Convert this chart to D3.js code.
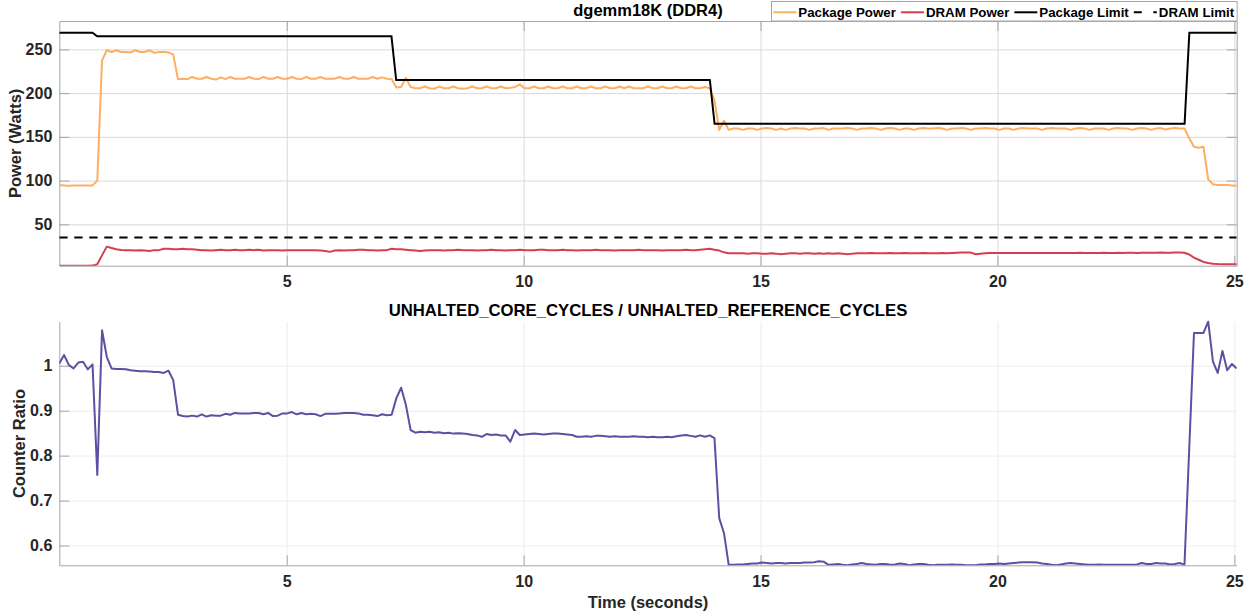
<!DOCTYPE html>
<html>
<head>
<meta charset="utf-8">
<script src="https://cdn.jsdelivr.net/npm/d3@7"></script>
<style>
  body { margin: 0; background: #fff; }
  svg { font-family: "Liberation Sans", Arial, sans-serif; font-weight: bold; }
</style>
</head>
<body>
<div id="chart"></div>
<script>
// samples every ~0.1 s starting at 0.2 s
const tStart = 0.2, dt = 0.1002;

// Package power (W), one value per sample
const pkgPower = [
  95, 94.5, 94, 94.5, 94.5, 94.5, 94.5, 94.5, 100, 237.5,
  249, 247, 249, 247, 247, 246.5, 249, 247, 247, 249,
  246, 247, 247, 246.5, 244, 216, 216.5, 216, 218.5, 216.5,
  216.5, 218.5, 216.5, 215.5, 218, 216, 218.5, 216.5, 216.5, 216.5,
  218.5, 216.5, 216, 218.5, 216.5, 216.5, 218.5, 216.5, 216.5, 218.5,
  216.5, 216, 218.5, 216.5, 216.5, 218.5, 216.5, 216.5, 216.5, 218.5,
  216.5, 216.5, 218.5, 216.5, 216.5, 216.5, 218.5, 216.5, 218, 216.5,
  216, 206.5, 207, 217.5, 207, 205.5, 205.5, 207.5, 205.5, 205,
  207.5, 205.5, 205.5, 207.5, 205.5, 205, 205.5, 207.5, 205.5, 205.5,
  207.5, 205.5, 205.5, 207.5, 205.5, 206, 207, 210, 205.5, 205.5,
  207.5, 205.5, 205.5, 207.5, 205.5, 205.5, 207.5, 205.5, 205.5, 207.5,
  205.5, 205.5, 207.5, 205.5, 205.5, 207.5, 205.5, 205.5, 207.5, 205.5,
  207.5, 205.5, 205.5, 205.5, 207.5, 205.5, 205.5, 207.5, 205.5, 205.5,
  207.5, 205.5, 205.5, 207.5, 205.5, 205.5, 207, 205.5, 192, 157.8,
  168.5, 158, 159.5, 159.5, 158, 159.5, 159.5, 158, 159.5, 160,
  159.5, 158, 159.5, 158, 159.5, 160, 159.5, 159.5, 158, 159.5,
  159.5, 160, 158, 159.5, 159.5, 159.5, 160, 159.5, 158, 159.5,
  159.5, 160, 159.5, 158, 159.5, 160, 159.5, 158, 159.5, 159.5,
  158, 159.5, 160, 159.5, 159.5, 160, 159.5, 158, 159.5, 159.5,
  160, 159.5, 158, 159.5, 159.5, 160, 159.5, 159.5, 158, 159.5,
  159.5, 158, 159.5, 160, 159.5, 159.5, 159.5, 158, 159.5, 160,
  159.5, 159.5, 159.5, 158, 159.5, 160, 159.5, 158, 159.5, 159.5,
  159.5, 158, 159.5, 160, 159.5, 159.5, 158, 159.5, 160, 159.5,
  158, 159.5, 160, 158.5, 159.5, 160, 159.5, 159.5, 148.3, 138.7,
  137.6, 138.7, 101.4, 95.8, 95, 95, 95, 94.5, 94
];

// DRAM power (W)
const dramPower = [
  2.7, 2.7, 2.7, 2.7, 2.7, 2.7, 2.7, 2.8, 4.3, 14.5,
  24.5, 23, 21.5, 20.7, 20.5, 20.5, 20, 20.5, 20, 19.5,
  20.5, 20.5, 22, 22, 21.5, 21.5, 22, 21.5, 21.5, 21,
  20.5, 20.5, 20, 20.5, 21, 20.5, 20.5, 21, 20.5, 20.5,
  21, 20.5, 21, 20, 20.5, 20.5, 20.5, 20, 20.5, 20.5,
  20.5, 20.5, 20.5, 20.5, 20.5, 20, 19.5, 18.5, 20, 20.5,
  20, 20.5, 20.5, 21, 21, 20.5, 20.5, 20, 20.5, 20.5,
  22, 21.5, 21.5, 21, 20.5, 20, 19.5, 20, 20.5, 20.5,
  20.5, 20, 20.5, 20.5, 21, 20.5, 20.5, 20.5, 20, 20.5,
  20.5, 21, 20.5, 20.5, 20, 20.5, 20.5, 21, 20.5, 20.5,
  20.5, 21, 21, 20.5, 20.5, 20.5, 21, 20.5, 20.5, 20,
  20.5, 20.5, 20.5, 21, 20.5, 20.5, 20.5, 20, 20.5, 20.5,
  20.5, 20.5, 21, 20.5, 20.5, 20.5, 20.5, 20, 20.5, 20.5,
  20.5, 20.5, 21, 20.5, 20.5, 21, 21.5, 22, 21, 20,
  18, 17, 17, 16.9, 16.9, 16.5, 16.9, 16.9, 16.5, 16.5,
  16.9, 16.5, 15.8, 16.5, 16.9, 16.9, 16.5, 16.9, 16.9, 16.5,
  16.9, 16.5, 16.9, 16.5, 16.9, 16.5, 15.8, 16.5, 16.9, 16.9,
  16.9, 17.1, 16.9, 16.9, 16.9, 17.1, 16.9, 16.9, 17.1, 16.9,
  16.9, 16.9, 17.1, 16.9, 16.9, 16.9, 17.1, 16.9, 17.3, 17.5,
  17.7, 17.7, 17.7, 15.8, 16.3, 16.9, 17.3, 17.3, 17.1, 17.3,
  17.3, 17.1, 17.3, 17.3, 17.3, 17.3, 17.1, 17.3, 17.3, 17.3,
  17.3, 17.1, 17.3, 17.3, 17.3, 17.5, 17.3, 17.3, 17.3, 17.3,
  17.5, 17.3, 17.3, 17.5, 17.3, 17.5, 17.5, 17.3, 17.5, 17.5,
  17.5, 17.5, 17.7, 17.5, 17.5, 17.7, 17.7, 17.5, 15.5, 12,
  9.5, 7, 5.8, 5, 4.6, 4.4, 4.3, 4.3, 4.3
];

// power limits (step changes)
const limitTime = [0.2, 0.9, 1.0, 7.21, 7.31, 13.93, 14.03, 23.95, 24.05, 25.05];
const limitWatts = [269, 269, 265, 265, 215, 215, 165, 165, 269, 269];
const dramLimit = 35;

// UNHALTED_CORE_CYCLES / UNHALTED_REFERENCE_CYCLES
const cycleRatio = [
  1.005, 1.024, 1.002, 0.994, 1.007, 1.009, 0.992, 1.003, 0.757, 1.079,
  1.02, 0.994, 0.993, 0.993, 0.992, 0.99, 0.989, 0.988, 0.988, 0.987,
  0.986, 0.986, 0.984, 0.989, 0.968, 0.891, 0.888, 0.887, 0.889, 0.887,
  0.892, 0.887, 0.89, 0.889, 0.889, 0.893, 0.891, 0.895, 0.894, 0.894,
  0.894, 0.895, 0.895, 0.892, 0.895, 0.888, 0.889, 0.894, 0.894, 0.897,
  0.892, 0.895, 0.892, 0.893, 0.892, 0.888, 0.893, 0.893, 0.893, 0.894,
  0.895, 0.895, 0.895, 0.894, 0.891, 0.891, 0.89, 0.888, 0.892, 0.89,
  0.891, 0.928, 0.951, 0.913, 0.857, 0.851, 0.853, 0.852, 0.853, 0.851,
  0.852, 0.85, 0.851, 0.849, 0.85, 0.849, 0.848, 0.846, 0.845, 0.842,
  0.848, 0.846, 0.847, 0.845, 0.845, 0.831, 0.857, 0.846, 0.847, 0.848,
  0.849, 0.848, 0.847, 0.848, 0.849, 0.849, 0.848, 0.847, 0.846, 0.842,
  0.842, 0.843, 0.842, 0.844, 0.844, 0.843, 0.842, 0.843, 0.842, 0.842,
  0.842, 0.843, 0.842, 0.842, 0.841, 0.842, 0.841, 0.841, 0.842, 0.841,
  0.843, 0.845, 0.846, 0.844, 0.842, 0.845, 0.842, 0.845, 0.839, 0.661,
  0.628, 0.557, 0.557, 0.558, 0.558, 0.559, 0.56, 0.56, 0.562, 0.561,
  0.56, 0.561, 0.561, 0.56, 0.561, 0.561, 0.561, 0.562, 0.562, 0.563,
  0.565, 0.564, 0.557, 0.558, 0.559, 0.557, 0.556, 0.558, 0.559, 0.561,
  0.559, 0.558, 0.557, 0.559, 0.559, 0.557, 0.558, 0.56, 0.559, 0.556,
  0.558, 0.559, 0.559, 0.557, 0.556, 0.557, 0.557, 0.557, 0.558, 0.557,
  0.557, 0.556, 0.556, 0.556, 0.558, 0.558, 0.559, 0.559, 0.56, 0.559,
  0.56, 0.561, 0.562, 0.563, 0.563, 0.563, 0.562, 0.56, 0.559, 0.557,
  0.556, 0.558, 0.56, 0.561, 0.56, 0.559, 0.558, 0.557, 0.557, 0.558,
  0.557, 0.557, 0.557, 0.557, 0.557, 0.557, 0.557, 0.558, 0.561, 0.559,
  0.559, 0.561, 0.56, 0.56, 0.558, 0.559, 0.561, 0.557, 0.815, 1.073,
  1.073, 1.073, 1.098, 1.009, 0.984, 1.033, 0.99, 1.004, 0.994
];

const xTicks = [5, 10, 15, 20, 25];
const powerTicks = [50, 100, 150, 200, 250];
const ratioTicks = [0.6, 0.7, 0.8, 0.9, 1];

const legendItems = [
  {name: "Package Power", color: "#fdae61", dash: null},
  {name: "DRAM Power", color: "#d53e4f", dash: null},
  {name: "Package Limit", color: "#000", dash: null},
  {name: "DRAM Limit", color: "#000", dash: "8,11.5"}
];

const width = 1250, height = 614;
const left = 59.3, right = 1236.7;
const top1 = 21, bottom1 = 265.7;
const top2 = 321.7, bottom2 = 565.3;

const time = pkgPower.map((d, i) => tStart + i * dt);

const svg = d3.select("#chart")
  .append("svg")
  .attr("width", width)
  .attr("height", height);

const x = d3.scaleLinear()
  .domain([tStart, time[time.length - 1]])
  .range([left, right]);

const pMin = d3.min([d3.min(pkgPower), d3.min(dramPower), dramLimit]);
const pMax = d3.max([d3.max(pkgPower), d3.max(dramPower), d3.max(limitWatts)]);
const yPow = d3.scaleLinear().domain([pMin, pMax * 1.05]).range([bottom1, top1]);
const yRat = d3.scaleLinear().domain(d3.extent(cycleRatio)).range([bottom2, top2]);

// draw grid, inward ticks and labels for one panel
function drawAxes(y, yTicks, y0, y1, gridColor, boxed, fmt) {
  const g = svg.append("g");

  g.append("g")
    .attr("transform", `translate(0,${y1})`)
    .call(d3.axisBottom(x).tickValues(xTicks).tickSize(-(y1 - y0)).tickFormat(""))
    .call(a => a.select(".domain").remove())
    .selectAll("line").attr("stroke", gridColor);

  g.append("g")
    .attr("transform", `translate(${left},0)`)
    .call(d3.axisLeft(y).tickValues(yTicks).tickSize(-(right - left)).tickFormat(""))
    .call(a => a.select(".domain").remove())
    .selectAll("line").attr("stroke", gridColor);

  const xa = g.append("g")
    .attr("transform", `translate(0,${y1})`)
    .call(d3.axisBottom(x).tickValues(xTicks).tickSizeInner(-10).tickSizeOuter(0).tickPadding(10));
  const ya = g.append("g")
    .attr("transform", `translate(${left},0)`)
    .call(d3.axisLeft(y).tickValues(yTicks).tickSizeInner(-10).tickSizeOuter(0).tickPadding(7).tickFormat(fmt));

  [xa, ya].forEach(a => {
    a.select(".domain").attr("stroke", "#a6a6a6");
    a.selectAll(".tick line").attr("stroke", "#a6a6a6");
    a.selectAll("text")
      .style("font-size", "16px")
      .style("font-weight", "bold")
      .attr("fill", "#262626");
  });

  if (boxed) {
    const xt = g.append("g")
      .attr("transform", `translate(0,${y0})`)
      .call(d3.axisTop(x).tickValues(xTicks).tickSizeInner(-10).tickSizeOuter(0).tickFormat(""));
    const yr = g.append("g")
      .attr("transform", `translate(${right},0)`)
      .call(d3.axisRight(y).tickValues(yTicks).tickSizeInner(-10).tickSizeOuter(0).tickFormat(""));
    [xt, yr].forEach(a => {
      a.select(".domain").attr("stroke", "#a6a6a6");
      a.selectAll(".tick line").attr("stroke", "#a6a6a6");
    });
  }
}

drawAxes(yPow, powerTicks, top1, bottom1, "#d9d9d9", true, d3.format("d"));
drawAxes(yRat, ratioTicks, top2, bottom2, "#ededed", false, d3.format("~g"));

svg.append("clipPath").attr("id", "clip1")
  .append("rect").attr("x", left).attr("y", top1).attr("width", right - left).attr("height", bottom1 - top1);
svg.append("clipPath").attr("id", "clip2")
  .append("rect").attr("x", left).attr("y", top2 - 2).attr("width", right - left).attr("height", bottom2 - top2 + 2);

const powLine = d3.line().x((d, i) => x(time[i])).y(d => yPow(d));

const plot1 = svg.append("g").attr("clip-path", "url(#clip1)");

plot1.append("path")
  .datum(pkgPower)
  .attr("d", powLine)
  .attr("fill", "none")
  .attr("stroke", "#fdae61")
  .attr("stroke-width", 2)
  .attr("stroke-linejoin", "round");

plot1.append("path")
  .datum(dramPower)
  .attr("d", powLine)
  .attr("fill", "none")
  .attr("stroke", "#d53e4f")
  .attr("stroke-width", 2)
  .attr("stroke-linejoin", "round");

plot1.append("path")
  .datum(limitWatts)
  .attr("d", d3.line().x((d, i) => x(limitTime[i])).y(d => yPow(d)))
  .attr("fill", "none")
  .attr("stroke", "#000")
  .attr("stroke-width", 2);

plot1.append("line")
  .attr("x1", x.range()[0])
  .attr("x2", x.range()[1])
  .attr("y1", yPow(dramLimit))
  .attr("y2", yPow(dramLimit))
  .attr("stroke", "#000")
  .attr("stroke-width", 2)
  .attr("stroke-dasharray", "8.3,6.7");

svg.append("g").attr("clip-path", "url(#clip2)")
  .append("path")
  .datum(cycleRatio)
  .attr("d", d3.line().x((d, i) => x(time[i])).y(d => yRat(d)))
  .attr("fill", "none")
  .attr("stroke", "#5e4fa2")
  .attr("stroke-width", 2)
  .attr("stroke-linejoin", "round");

// titles and axis labels
const mid = (left + right) / 2;
svg.append("text").attr("x", mid).attr("y", 16)
  .attr("text-anchor", "middle").style("font-size", "16.5px")
  .text("dgemm18K (DDR4)");
svg.append("text").attr("x", mid).attr("y", 316)
  .attr("text-anchor", "middle").style("font-size", "16.7px")
  .text("UNHALTED_CORE_CYCLES / UNHALTED_REFERENCE_CYCLES");
svg.append("text").attr("x", mid).attr("y", 608)
  .attr("text-anchor", "middle").style("font-size", "16.5px").attr("fill", "#262626")
  .text("Time (seconds)");
svg.append("text")
  .attr("transform", `translate(15,${(top1 + bottom1) / 2}) rotate(-90)`)
  .attr("text-anchor", "middle").attr("dy", "0.35em")
  .style("font-size", "16.5px").attr("fill", "#262626")
  .text("Power (Watts)");
svg.append("text")
  .attr("transform", `translate(19,${(top2 + bottom2) / 2}) rotate(-90)`)
  .attr("text-anchor", "middle").attr("dy", "0.35em")
  .style("font-size", "16.5px").attr("fill", "#262626")
  .text("Counter Ratio");

// legend
const legend = svg.append("g");
const box = legend.append("rect")
  .attr("fill", "#fff")
  .attr("stroke", "#a6a6a6");
let lx = 773.3;
const ly = 12.3;
legendItems.forEach(item => {
  legend.append("line")
    .attr("x1", lx).attr("x2", lx + 23)
    .attr("y1", ly).attr("y2", ly)
    .attr("stroke", item.color)
    .attr("stroke-width", 2)
    .attr("stroke-dasharray", item.dash);
  const t = legend.append("text")
    .attr("x", lx + 25).attr("y", 17)
    .style("font-size", "13.3px")
    .text(item.name);
  lx += 25 + t.node().getComputedTextLength() + 5;
});
box.attr("x", 771.5).attr("y", 1.5).attr("width", lx - 771.5 - 2).attr("height", top1 - 1.5);
</script>
</body>
</html>
